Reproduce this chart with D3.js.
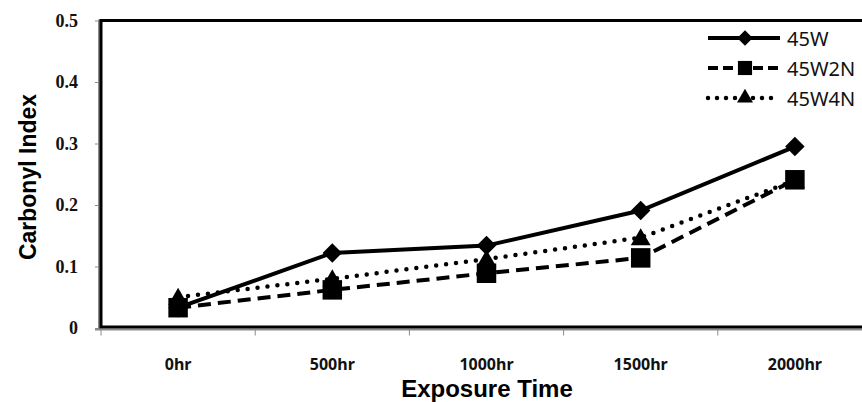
<!DOCTYPE html>
<html>
<head>
<meta charset="utf-8">
<script src="https://cdn.jsdelivr.net/npm/d3@7"></script>
<style>
  body { margin: 0; background: #fff; }
  svg { display: block; }
</style>
</head>
<body>
<div id="chart-area"></div>
<script>
var categories = ["0hr", "500hr", "1000hr", "1500hr", "2000hr"];
var seriesNames = ["45W", "45W2N", "45W4N"];
var values45W = [0.033, 0.122, 0.134, 0.191, 0.295];
var values45W2N = [0.033, 0.062, 0.089, 0.114, 0.241];
var values45W4N = [0.050, 0.080, 0.112, 0.147, 0.240];
var yTicks = [0, 0.1, 0.2, 0.3, 0.4, 0.5];

var W = 862, H = 402;
var plot = { left: 101, top: 20.5, right: 872, bottom: 328 };

// diamond = square turned 45 degrees
var series = [
  { name: seriesNames[0], values: values45W, dash: null, marker: d3.symbolSquare, rotate: 45, size: 190, legendSize: 120 },
  { name: seriesNames[1], values: values45W2N, dash: "13 7", marker: d3.symbolSquare, rotate: 0, size: 380, legendSize: 200 },
  { name: seriesNames[2], values: values45W4N, dash: "0 10", marker: d3.symbolTriangle, rotate: 0, size: 170, legendSize: 110 }
];

var svg = d3.select("#chart-area")
  .append("svg")
  .attr("width", W)
  .attr("height", H);

var x = d3.scaleBand()
  .domain(categories)
  .range([plot.left, plot.right]);

var y = d3.scaleLinear()
  .domain([0, 0.5])
  .range([plot.bottom, plot.top]);

// axes (gray)
var yAxis = svg.append("g")
  .attr("transform", "translate(99,0)")
  .call(d3.axisLeft(y).tickValues(yTicks).tickSize(4).tickFormat(function(d) {
    return d === 0 ? "0" : d3.format(".1f")(d);
  }));
yAxis.select(".domain").attr("stroke", "#8a8a8a").attr("stroke-width", 2)
  .attr("d", "M0," + (plot.top - 1) + "V" + (plot.bottom + 2));
yAxis.selectAll(".tick line").attr("stroke", "#8a8a8a").attr("stroke-width", 1);
yAxis.selectAll(".tick text")
  .attr("x", -21)
  .attr("fill", "#111")
  .style("font-family", "'Liberation Serif', serif")
  .style("font-weight", "bold")
  .style("font-size", "18px");

var xAxis = svg.append("g")
  .attr("transform", "translate(0,329.5)");
xAxis.append("line")
  .attr("x1", 95).attr("x2", W)
  .attr("stroke", "#8a8a8a").attr("stroke-width", 2);
xAxis.selectAll(".xtick")
  .data(categories)
  .enter()
  .append("line")
  .attr("class", "xtick")
  .attr("x1", function(d) { return x(d); })
  .attr("x2", function(d) { return x(d); })
  .attr("y1", 0).attr("y2", 6)
  .attr("stroke", "#8a8a8a");
xAxis.selectAll(".xlabel")
  .data(categories)
  .enter()
  .append("text")
  .attr("class", "xlabel")
  .attr("x", function(d) { return x(d) + x.bandwidth() / 2; })
  .attr("y", 40)
  .attr("text-anchor", "middle")
  .attr("fill", "#111")
  .style("font-family", "'Noto Sans', sans-serif")
  .style("font-weight", "bold")
  .style("font-size", "16px")
  .text(function(d) { return d; });

// plot area border
svg.append("rect")
  .attr("x", plot.left)
  .attr("y", plot.top)
  .attr("width", plot.right - plot.left)
  .attr("height", plot.bottom - plot.top - 1)
  .attr("fill", "none")
  .attr("stroke", "#000")
  .attr("stroke-width", 3);

// axis titles
svg.append("text")
  .attr("transform", "translate(36,177) rotate(-90)")
  .attr("text-anchor", "middle")
  .style("font-family", "'Liberation Sans', Arial, sans-serif")
  .style("font-weight", "bold")
  .style("font-size", "23px")
  .text("Carbonyl Index");

svg.append("text")
  .attr("x", 487)
  .attr("y", 397)
  .attr("text-anchor", "middle")
  .style("font-family", "'Liberation Sans', Arial, sans-serif")
  .style("font-weight", "bold")
  .style("font-size", "24px")
  .text("Exposure Time");

// lines
var line = d3.line()
  .x(function(d, i) { return x(categories[i]) + x.bandwidth() / 2; })
  .y(function(d) { return y(d); });

series.forEach(function(s) {
  svg.append("path")
    .datum(s.values)
    .attr("d", line)
    .attr("fill", "none")
    .attr("stroke", "#000")
    .attr("stroke-width", s.dash === "0 10" ? 4.5 : 4)
    .attr("stroke-linecap", s.dash === "0 10" ? "round" : "butt")
    .attr("stroke-dasharray", s.dash);
});

series.forEach(function(s) {
  svg.selectAll(null)
    .data(s.values)
    .enter()
    .append("path")
    .attr("d", d3.symbol().type(s.marker).size(s.size))
    .attr("transform", function(d, i) {
      var dy = s.marker === d3.symbolTriangle ? 2 : 0;
      return "translate(" + (x(categories[i]) + x.bandwidth() / 2) + "," + (y(d) + dy) + ") rotate(" + s.rotate + ")";
    })
    .attr("fill", "#000");
});

// legend
var legend = svg.selectAll(".legend")
  .data(series)
  .enter()
  .append("g")
  .attr("class", "legend")
  .attr("transform", function(d, i) { return "translate(0," + (38 + i * 30) + ")"; });

legend.append("line")
  .attr("x1", 708).attr("x2", 780)
  .attr("stroke", "#000")
  .attr("stroke-width", function(d) { return d.dash === "0 10" ? 4.5 : 4; })
  .attr("stroke-linecap", function(d) { return d.dash === "0 10" ? "round" : "butt"; })
  .attr("stroke-dasharray", function(d) { return d.dash === "0 10" ? "0 9" : (d.dash ? "10 5" : null); });

legend.append("path")
  .attr("d", function(d) { return d3.symbol().type(d.marker).size(d.legendSize)(); })
  .attr("transform", function(d) { return "translate(745,0) rotate(" + d.rotate + ")"; })
  .attr("fill", "#000");

legend.append("text")
  .attr("x", 787)
  .attr("y", 7.5)
  .style("font-family", "'Noto Sans', sans-serif")
  .style("font-size", "20px")
  .attr("fill", "#111")
  .text(function(d) { return d.name; });
</script>
</body>
</html>
